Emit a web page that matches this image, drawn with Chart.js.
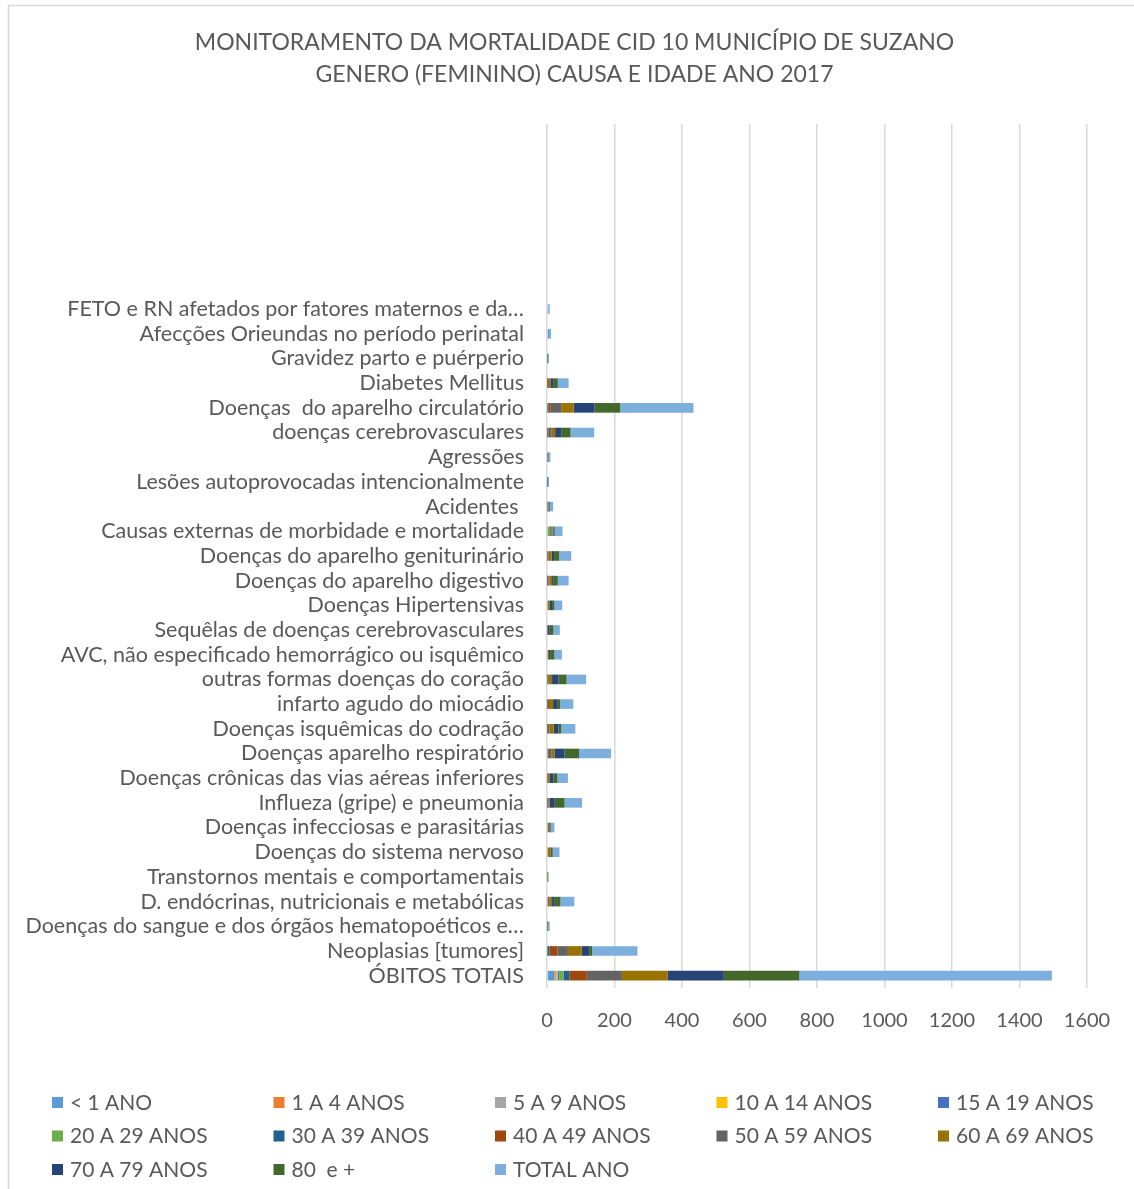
<!DOCTYPE html>
<html>
<head>
<meta charset="utf-8">
<script src="https://cdn.jsdelivr.net/npm/chart.js@4.4.0/dist/chart.umd.min.js"></script>
<style>
  html, body { margin: 0; padding: 0; background: #fff; }
  #wrap { width: 1134px; height: 1189px; position: relative; }
</style>
</head>
<body>
<div id="wrap"><canvas id="chart" width="1134" height="1189"></canvas></div>
<script>
// categorias (de cima para baixo, como no gráfico)
const CATEGORIES = [
  'FETO e RN afetados por fatores maternos e da…',
  'Afecções Orieundas no período perinatal',
  'Gravidez parto e puérperio',
  'Diabetes Mellitus',
  'Doenças  do aparelho circulatório',
  'doenças cerebrovasculares',
  'Agressões',
  'Lesões autoprovocadas intencionalmente',
  'Acidentes ',
  'Causas externas de morbidade e mortalidade',
  'Doenças do aparelho geniturinário',
  'Doenças do aparelho digestivo',
  'Doenças Hipertensivas',
  'Sequêlas de doenças cerebrovasculares',
  'AVC, não especificado hemorrágico ou isquêmico',
  'outras formas doenças do coração',
  'infarto agudo do miocádio',
  'Doenças isquêmicas do codração',
  'Doenças aparelho respiratório',
  'Doenças crônicas das vias aéreas inferiores',
  'Influeza (gripe) e pneumonia',
  'Doenças infecciosas e parasitárias',
  'Doenças do sistema nervoso',
  'Transtornos mentais e comportamentais',
  'D. endócrinas, nutricionais e metabólicas',
  'Doenças do sangue e dos órgãos hematopoéticos e…',
  'Neoplasias [tumores]',
  'ÓBITOS TOTAIS'
];
const EMPTY_ROWS = 7; // linhas vazias no topo do eixo

const SERIES_NAMES = ['< 1 ANO', '1 A 4 ANOS', '5 A 9 ANOS', '10 A 14 ANOS', '15 A 19 ANOS',
  '20 A 29 ANOS', '30 A 39 ANOS', '40 A 49 ANOS', '50 A 59 ANOS', '60 A 69 ANOS',
  '70 A 79 ANOS', '80  e +', 'TOTAL ANO'];

// valores por faixa etária (mesma ordem de CATEGORIES)
const MENOS_1  = [4, 6, 0, 0, 0, 0, 0, 0, 0, 0, 0, 0, 0, 0, 0, 0, 0, 0, 1, 0, 0, 0, 0, 0, 0, 0, 0, 22];
const A1_4     = [0, 0, 0, 0, 0, 0, 0, 0, 0, 0, 0, 0, 0, 0, 0, 0, 0, 0, 1, 0, 0, 0, 0, 0, 0, 0, 0, 4];
const A5_9     = [0, 0, 0, 0, 0, 0, 0, 0, 0, 0, 0, 0, 0, 0, 0, 0, 0, 0, 0, 0, 0, 0, 0, 0, 0, 0, 0, 2];
const A10_14   = [0, 0, 0, 0, 0, 0, 0, 0, 0, 0, 0, 0, 0, 0, 0, 0, 0, 0, 0, 0, 0, 0, 0, 0, 0, 0, 0, 3];
const A15_19   = [0, 0, 0, 0, 0, 0, 1, 0, 0, 2, 0, 0, 0, 0, 0, 0, 0, 0, 0, 0, 0, 0, 0, 0, 0, 0, 0, 5];
const A20_29   = [0, 0, 1, 0, 1, 0, 2, 0, 1, 7, 0, 0, 0, 0, 0, 0, 0, 0, 1, 0, 0, 0, 0, 0, 0, 0, 1, 13];
const A30_39   = [0, 0, 2, 0, 3, 1, 1, 1, 1, 2, 1, 1, 0, 0, 0, 1, 0, 0, 2, 0, 1, 0, 0, 0, 0, 0, 6, 17];
const A40_49   = [0, 0, 0, 1, 7, 3, 1, 1, 1, 2, 1, 3, 0, 0, 0, 1, 1, 1, 4, 1, 1, 0, 0, 0, 2, 0, 24, 52];
const A50_59   = [0, 0, 0, 2, 31, 10, 0, 1, 2, 3, 3, 3, 2, 1, 2, 3, 5, 6, 5, 1, 3, 2, 2, 0, 5, 0, 31, 104];
const A60_69   = [0, 0, 0, 7, 37, 10, 0, 0, 1, 2, 9, 8, 5, 1, 4, 10, 12, 13, 8, 5, 3, 4, 8, 1, 8, 1, 41, 136];
const A70_79   = [0, 0, 0, 10, 62, 18, 0, 0, 1, 2, 7, 5, 8, 6, 5, 19, 12, 14, 30, 12, 15, 2, 2, 0, 8, 1, 22, 166];
const A80_MAIS = [0, 0, 0, 12, 76, 28, 0, 0, 2, 3, 15, 12, 7, 11, 11, 24, 9, 8, 43, 12, 29, 3, 5, 1, 17, 2, 9, 224];
const TOTAL    = [4, 6, 3, 32, 217, 70, 5, 3, 9, 23, 36, 32, 23, 19, 22, 58, 39, 42, 95, 31, 52, 11, 20, 3, 41, 4, 134, 748];

const X_TICKS = [0, 200, 400, 600, 800, 1000, 1200, 1400, 1600];

const SERIES_COLORS = ['#5B9BD5', '#ED7D31', '#A5A5A5', '#FFC000', '#4472C4', '#70AD47',
  '#255E91', '#9E480E', '#636363', '#997300', '#264478', '#43682B', '#7CAFDD'];

const TEXT_COLOR = '#595959';
const FONT = "Lato, 'Open Sans', sans-serif";

const allSeries = [MENOS_1, A1_4, A5_9, A10_14, A15_19, A20_29, A30_39, A40_49,
  A50_59, A60_69, A70_79, A80_MAIS, TOTAL];

const blanks = new Array(EMPTY_ROWS).fill('');
const labels = blanks.concat(CATEGORIES);

const datasets = allSeries.map((vals, i) => ({
  label: SERIES_NAMES[i],
  data: new Array(EMPTY_ROWS).fill(null).concat(vals),
  backgroundColor: SERIES_COLORS[i],
  borderWidth: 0,
  barPercentage: 0.39,
  categoryPercentage: 1
}));

// moldura clara do gráfico (canto superior esquerdo)
const framePlugin = {
  id: 'frame',
  afterLayout(chart) {
    // o título do Excel fica centrado um pouco mais à direita
    if (chart.titleBlock) chart.titleBlock.left = 62;
  },
  beforeDraw(chart) {
    const ctx = chart.ctx;
    ctx.save();
    ctx.fillStyle = '#fff';
    ctx.fillRect(0, 0, chart.width, chart.height);
    ctx.strokeStyle = '#D9D9D9';
    ctx.lineWidth = 1.5;
    ctx.beginPath();
    ctx.moveTo(8.5, chart.height);
    ctx.lineTo(8.5, 5.5);
    ctx.lineTo(chart.width, 5.5);
    ctx.stroke();
    ctx.restore();
  }
};

// legenda em grade (5 colunas), como no Excel
const gridLegend = {
  id: 'gridLegend',
  afterDraw(chart) {
    const ctx = chart.ctx;
    ctx.save();
    ctx.font = '21px ' + FONT;
    ctx.textBaseline = 'middle';
    ctx.textAlign = 'left';
    chart.data.datasets.forEach((ds, i) => {
      const col = i % 5;
      const row = Math.floor(i / 5);
      const x = 52 + col * 221.5;
      const y = 1102 + row * 33.5;
      ctx.fillStyle = ds.backgroundColor;
      ctx.fillRect(x, y - 5, 11, 11);
      ctx.fillStyle = TEXT_COLOR;
      ctx.fillText(ds.label, x + 18, y + 1);
    });
    ctx.restore();
  }
};

new Chart(document.getElementById('chart'), {
  type: 'bar',
  data: { labels, datasets },
  options: {
    indexAxis: 'y',
    responsive: false,
    animation: false,
    layout: { padding: { left: 10, right: 47, top: 0, bottom: 0 } },
    plugins: {
      legend: { display: false },
      tooltip: { enabled: false },
      title: {
        display: true,
        text: ['MONITORAMENTO DA MORTALIDADE CID 10 MUNICÍPIO DE SUZANO',
               'GENERO (FEMININO) CAUSA E IDADE ANO 2017'],
        color: TEXT_COLOR,
        font: { family: FONT, size: 23, weight: 'normal', lineHeight: 1.39 },
        padding: { top: 27, bottom: 33 }
      }
    },
    scales: {
      x: {
        stacked: true,
        min: 0,
        max: 1600,
        afterBuildTicks(scale) {
          scale.ticks = X_TICKS.map(v => ({ value: v }));
        },
        afterFit(scale) { scale.height = 1189 - 988; },
        grid: { color: '#D9D9D9', lineWidth: 1.5, drawTicks: false },
        border: { display: false },
        ticks: {
          color: TEXT_COLOR,
          font: { family: FONT, size: 20 },
          padding: 21,
          callback: v => String(v)
        }
      },
      y: {
        stacked: true,
        afterFit(scale) { scale.width = 547 - 10; },
        grid: { display: false, drawTicks: false },
        border: { display: false },
        ticks: { color: TEXT_COLOR, font: { family: FONT, size: 21.5 }, padding: 23, autoSkip: false }
      }
    }
  },
  plugins: [framePlugin, gridLegend]
});
</script>
</body>
</html>
